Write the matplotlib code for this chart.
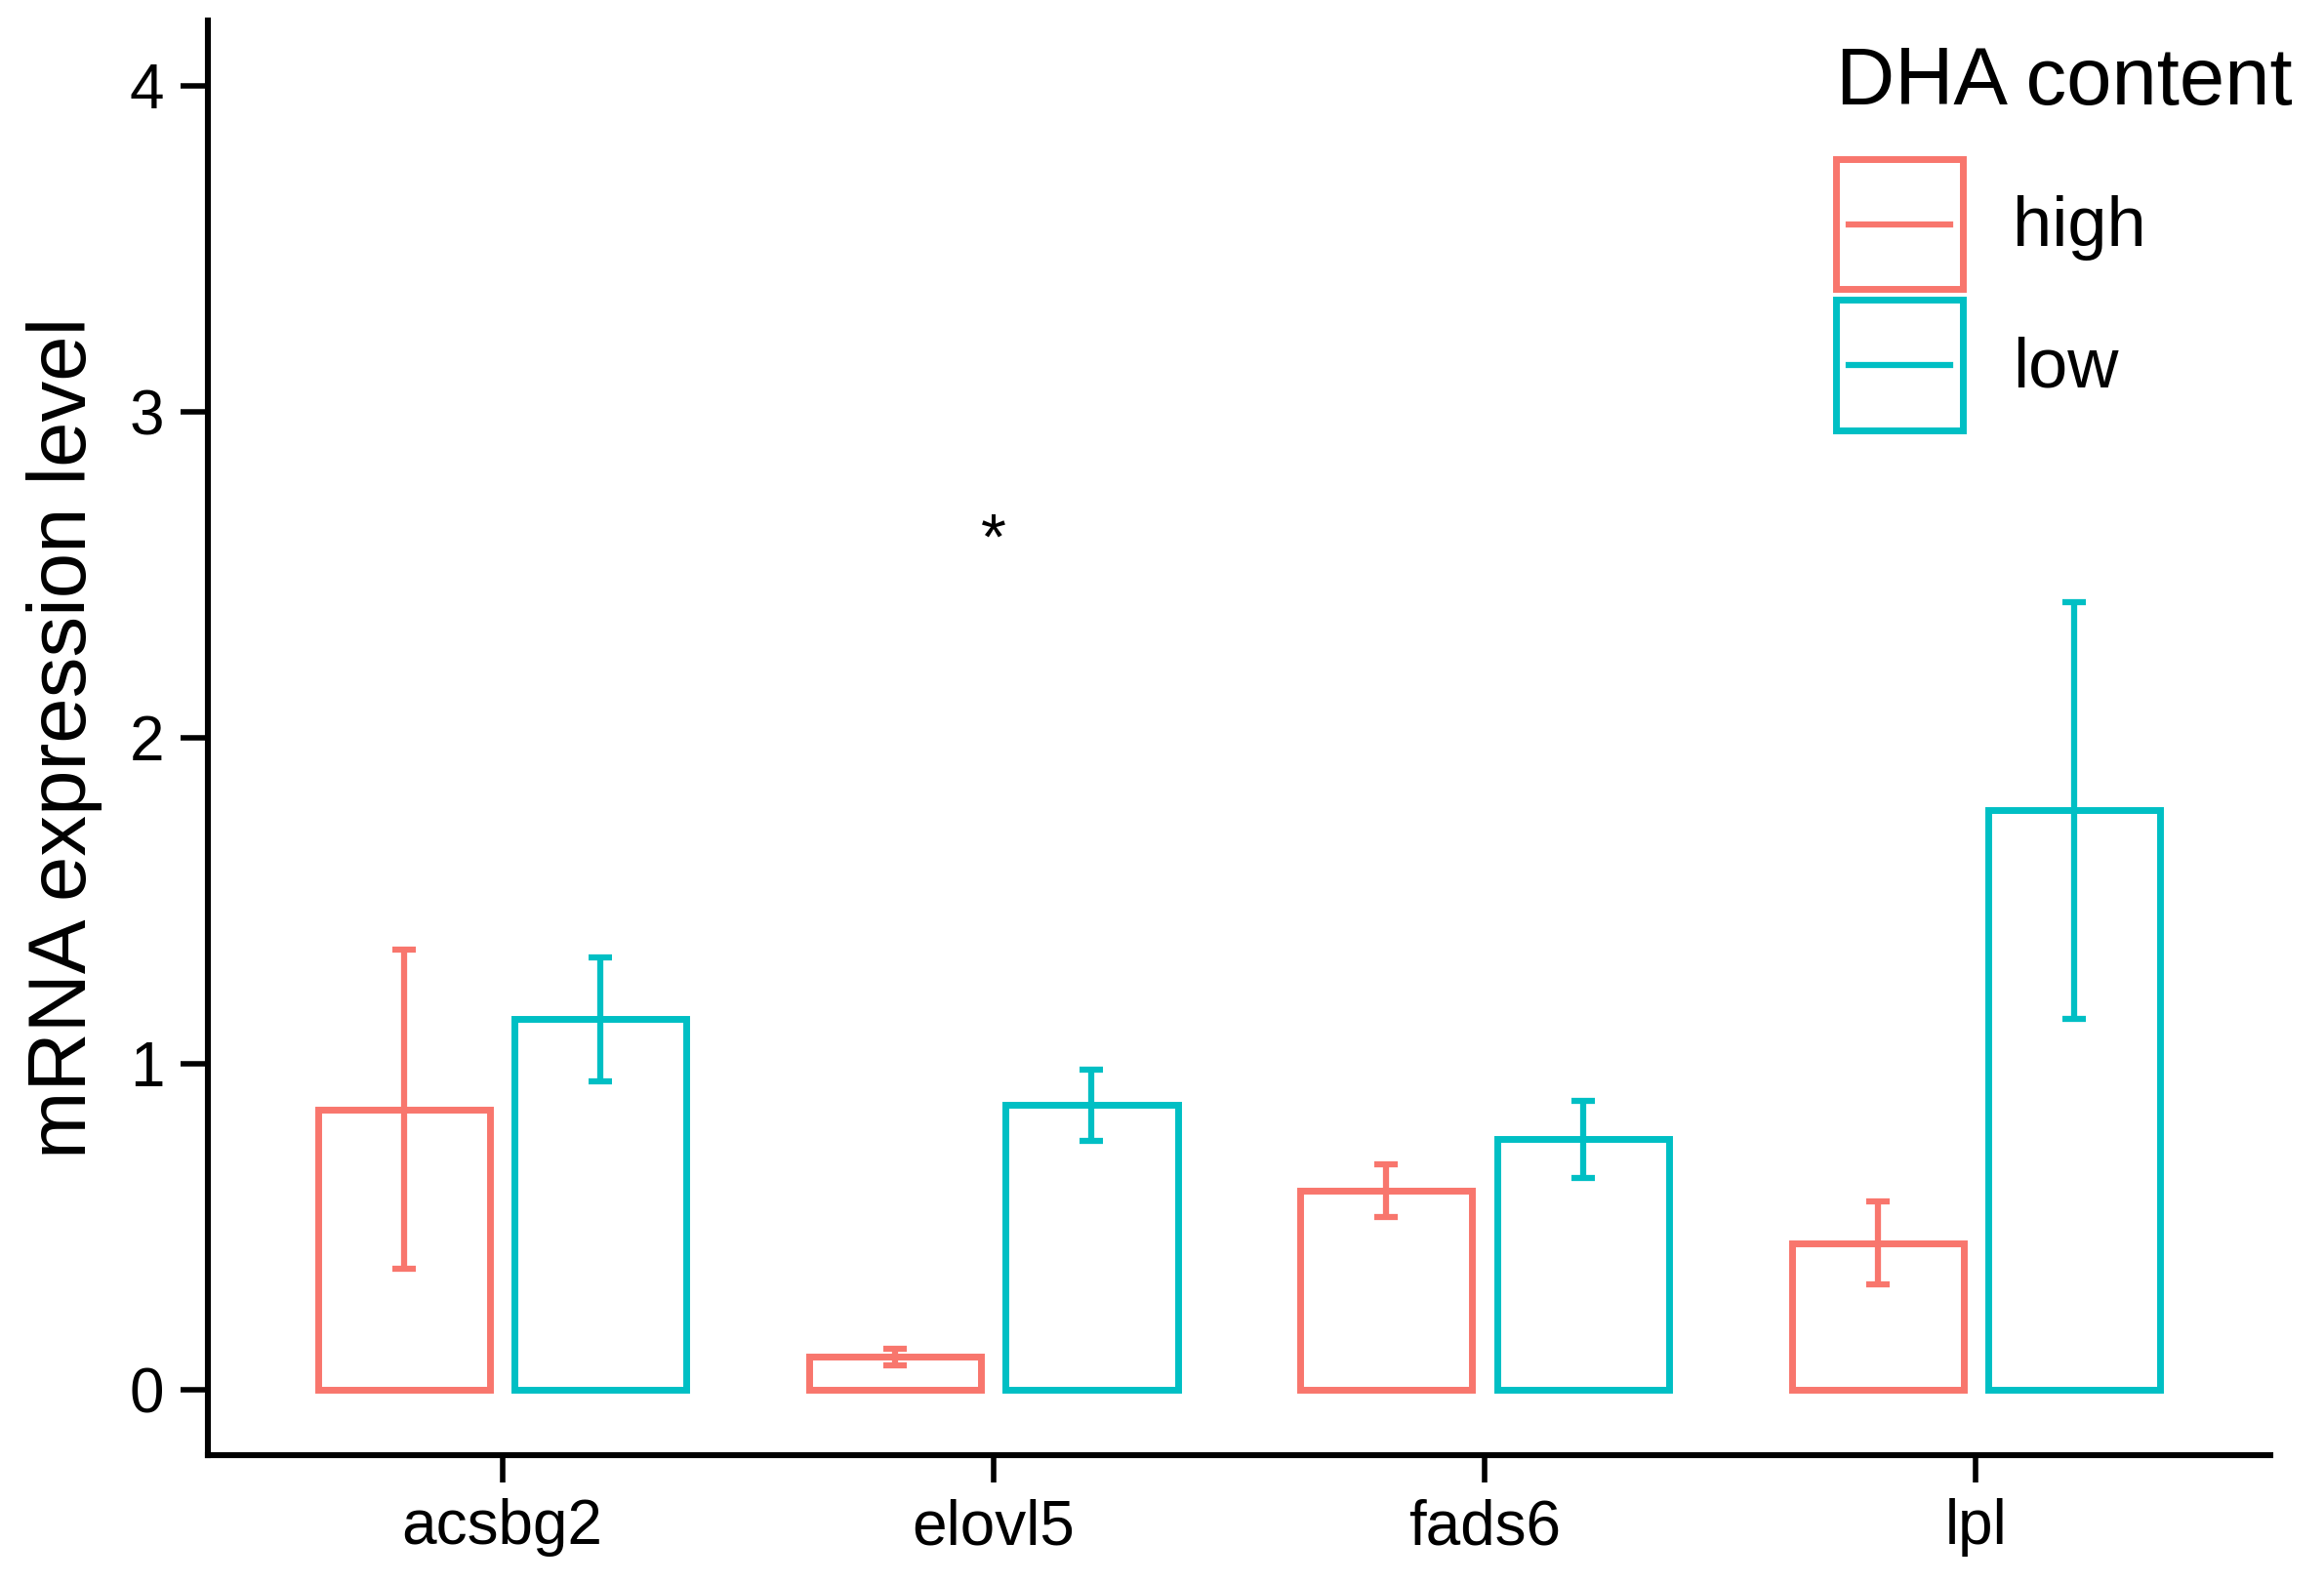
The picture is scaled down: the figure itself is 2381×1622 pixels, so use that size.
import numpy as np
import matplotlib
matplotlib.use("Agg")
import matplotlib.pyplot as plt
from matplotlib.patches import Patch
from matplotlib.lines import Line2D
from matplotlib.legend_handler import HandlerTuple, HandlerLine2D

plt.rcParams['font.family'] = ['Liberation Sans', 'DejaVu Sans']

# data
genes = ["acsbg2", "elovl5", "fads6", "lpl"]
groups = ["high", "low"]
colors = ["#F8766D", "#00BFC4"]
high_mean = [0.86, 0.10, 0.61, 0.45]
high_err = [0.49, 0.025, 0.08, 0.127]
low_mean = [1.136, 0.873, 0.768, 1.777]
low_err = [0.19, 0.11, 0.118, 0.64]
signif = {"elovl5": 2.60}


class CenteredLine(HandlerLine2D):
    # put the key line in the middle of the key box, a bit inset
    def create_artists(self, legend, orig_handle, xdescent, ydescent,
                       width, height, fontsize, trans):
        arts = super().create_artists(legend, orig_handle, xdescent, ydescent,
                                      width, height, fontsize, trans)
        for a in arts:
            a.set_xdata([-xdescent + 0.1 * width, -xdescent + 0.9 * width])
            a.set_ydata([height / 2 - ydescent] * 2)
        return arts


fig = plt.figure(figsize=(23.81, 16.22), dpi=100)
ax = fig.add_axes([0.0893, 0.081, 0.8877, 0.906])

x = np.arange(len(genes))
width = 0.35
offsets = [-0.2, 0.2]
means = [high_mean, low_mean]
errs = [high_err, low_err]

for i in range(2):
    ax.bar(x + offsets[i], means[i], width, facecolor="white",
           edgecolor=colors[i], linewidth=5, zorder=2)
    ax.errorbar(x + offsets[i], means[i], yerr=errs[i], fmt="none",
                ecolor=colors[i], elinewidth=4.5, capsize=8.6,
                capthick=4.5, zorder=3)

for g, yv in signif.items():
    ax.text(genes.index(g), yv, "*", ha="center", va="center", fontsize=48)

ax.set_xlim(-0.6, 3.6)
ax.set_ylim(-0.2, 4.2)
ax.set_xticks(x)
ax.set_xticklabels(genes)
ax.set_yticks([0, 1, 2, 3, 4])
ax.set_ylabel("mRNA expression level", fontsize=60, labelpad=20)
ax.tick_params(axis="both", labelsize=46, length=20, width=4, pad=12)

for s in ["top", "right"]:
    ax.spines[s].set_visible(False)
for s in ["left", "bottom"]:
    ax.spines[s].set_linewidth(4.4)

handles = []
for c in colors:
    handles.append((Patch(facecolor="white", edgecolor=c, linewidth=5),
                    Line2D([0], [0], color=c, linewidth=4.5)))
leg = ax.legend(handles, groups, title="DHA content", fontsize=52,
                title_fontsize=60, frameon=False,
                handler_map={tuple: HandlerTuple(ndivide=1),
                             Line2D: CenteredLine()},
                handlelength=1.8, handleheight=2.47, labelspacing=0.15,
                handletextpad=0.7, borderpad=0, loc="upper left",
                bbox_to_anchor=(0.775, 0.994), bbox_transform=fig.transFigure,
                alignment="left")
leg._legend_box.sep = 28

fig.savefig("out.png", dpi=100)
